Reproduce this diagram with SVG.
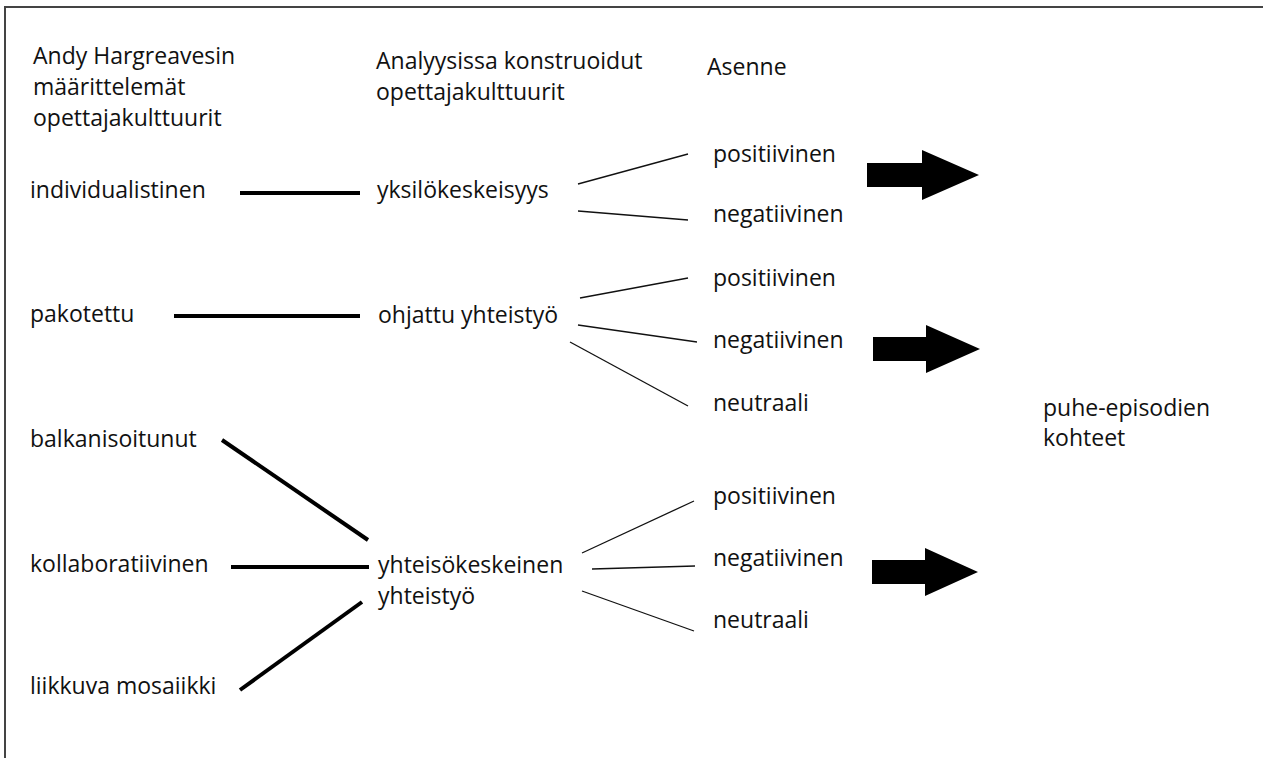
<svg xmlns="http://www.w3.org/2000/svg" width="1263" height="758" viewBox="0 0 1263 758">
<style>
text{font-family:"Open Sans","Noto Sans","Liberation Sans",sans-serif;font-size:23px;fill:#111}
.thick{stroke:#000;stroke-width:4;fill:none}
.thin{stroke:#111;stroke-width:1.3;fill:none}
.arrow{fill:#000}
</style>
<rect width="1263" height="758" fill="#fff"/>
<path d="M5,758 V7 H1263" stroke="#444" stroke-width="2" fill="none"/>
<g id="headers">
<text x="33" y="64">Andy Hargreavesin</text>
<text x="33" y="95">määrittelemät</text>
<text x="33" y="126">opettajakulttuurit</text>
<text x="376" y="69">Analyysissa konstruoidut</text>
<text x="376" y="100">opettajakulttuurit</text>
<text x="707" y="75">Asenne</text>
</g>
<g id="n-individualistinen"><text x="30" y="198">individualistinen</text></g>
<g id="n-pakotettu"><text x="30" y="322">pakotettu</text></g>
<g id="n-balkanisoitunut"><text x="30" y="447">balkanisoitunut</text></g>
<g id="n-kollaboratiivinen"><text x="30" y="572">kollaboratiivinen</text></g>
<g id="n-liikkuva"><text x="30" y="694">liikkuva mosaiikki</text></g>
<g id="n-yksilokeskeisyys"><text x="377" y="198">yksilökeskeisyys</text></g>
<g id="n-ohjattu"><text x="378" y="323">ohjattu yhteistyö</text></g>
<g id="n-yhteisokeskeinen"><text x="378" y="573">yhteisökeskeinen</text><text x="378" y="604">yhteistyö</text></g>
<g id="n-pos1"><text x="713" y="162">positiivinen</text></g>
<g id="n-neg1"><text x="713" y="222">negatiivinen</text></g>
<g id="n-pos2"><text x="713" y="286">positiivinen</text></g>
<g id="n-neg2"><text x="713" y="348">negatiivinen</text></g>
<g id="n-neu2"><text x="713" y="411">neutraali</text></g>
<g id="n-pos3"><text x="713" y="504">positiivinen</text></g>
<g id="n-neg3"><text x="713" y="566">negatiivinen</text></g>
<g id="n-neu3"><text x="713" y="628">neutraali</text></g>
<g id="n-puhe"><text x="1043" y="416">puhe-episodien</text><text x="1043" y="446">kohteet</text></g>
<g id="connectors">
<line class="thick" x1="240" y1="193" x2="360" y2="193"/>
<line class="thick" x1="174" y1="316" x2="360" y2="316"/>
<line class="thick" x1="222" y1="440" x2="368" y2="540"/>
<line class="thick" x1="231" y1="567" x2="369" y2="567"/>
<line class="thick" x1="240" y1="690" x2="362" y2="602"/>
<line class="thin" x1="578" y1="184" x2="688" y2="154"/>
<line class="thin" x1="578" y1="211" x2="688" y2="220"/>
<line class="thin" x1="580" y1="298" x2="688" y2="278"/>
<line class="thin" x1="578" y1="325" x2="697" y2="342"/>
<line class="thin" x1="570" y1="342" x2="688" y2="406"/>
<line class="thin" x1="582" y1="553" x2="694" y2="501"/>
<line class="thin" x1="592" y1="569" x2="695" y2="566"/>
<line class="thin" x1="582" y1="591" x2="694" y2="631"/>
<polygon class="arrow" points="867,163 922,163 922,150 979,175 922,200 922,187 867,187"/>
<polygon class="arrow" points="873,337 926,337 926,325 980,349 926,373 926,361 873,361"/>
<polygon class="arrow" points="872,560 925,560 925,548 978,572 925,596 925,584 872,584"/>
</g>
</svg>
